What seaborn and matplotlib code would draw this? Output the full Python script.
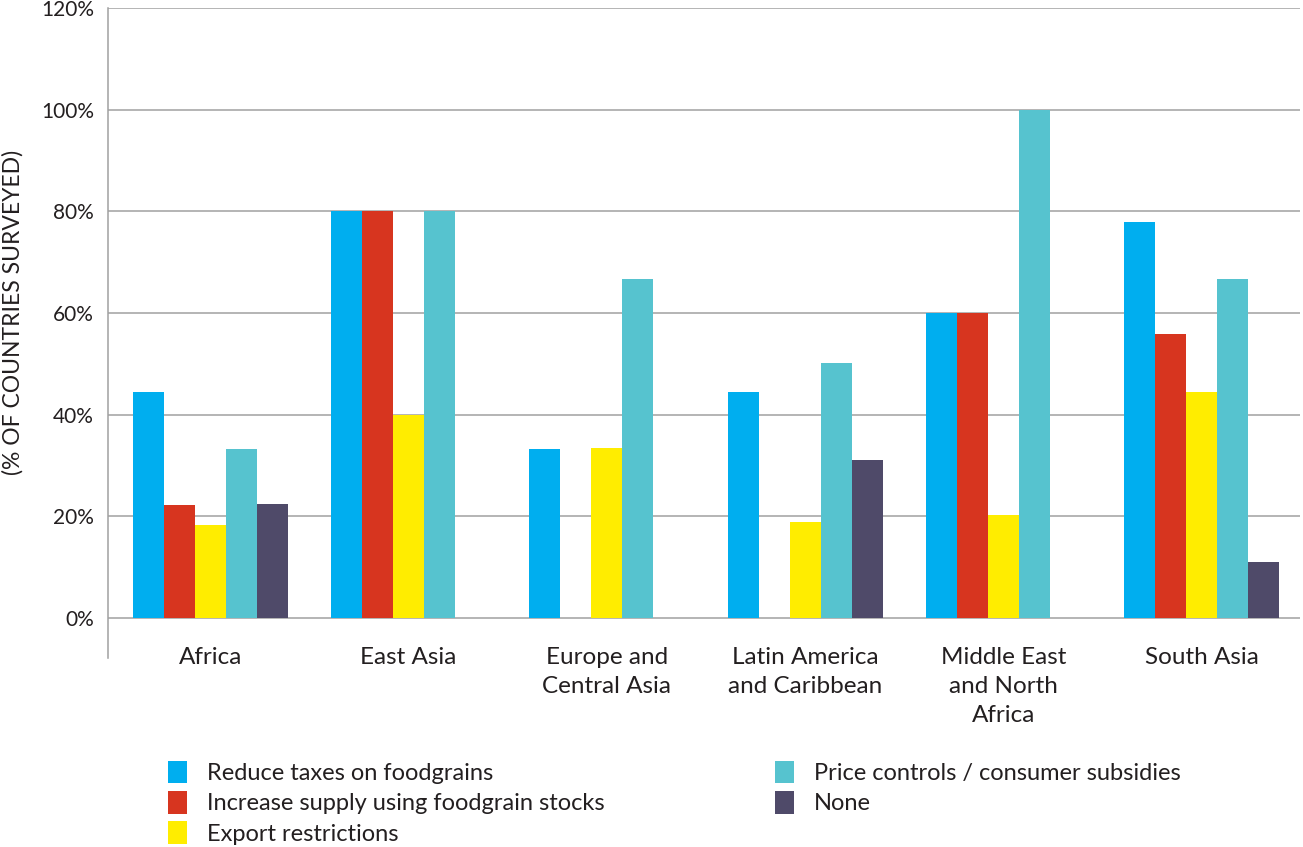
import seaborn as sns
from matplotlib import pyplot as plt
from matplotlib.patches import Patch
import pandas as pd

regions = ['Africa', 'East Asia', 'Europe and\nCentral Asia', 'Latin America\nand Caribbean',
           'Middle East\nand North\nAfrica', 'South Asia']
measures = ['Reduce taxes on foodgrains', 'Increase supply using foodgrain stocks',
            'Export restrictions', 'Price controls / consumer subsidies', 'None']

reduce_taxes = [44.4, 80.0, 33.3, 44.4, 60.0, 77.8]
increase_supply = [22.2, 80.0, 0.0, 0.0, 60.0, 55.9]
export_restr = [18.2, 40.0, 33.5, 18.9, 20.3, 44.5]
price_controls = [33.3, 80.0, 66.7, 50.2, 100.0, 66.7]
none_vals = [22.4, 0.0, 0.0, 31.1, 0.0, 11.0]

yticks = [0, 20, 40, 60, 80, 100, 120]
colors = ['#00AEEF', '#D7351F', '#FFED00', '#56C3CF', '#4F4A69']

series = [reduce_taxes, increase_supply, export_restr, price_controls, none_vals]
df = pd.DataFrame({
    'region': [r for _ in measures for r in regions],
    'measure': [m for m in measures for _ in regions],
    'value': [v for s in series for v in s],
})

sns.set_style('white')
plt.rcParams['font.family'] = ['Lato', 'DejaVu Sans']

fig = plt.figure(figsize=(13.03, 8.47), dpi=100)
ax = fig.add_axes([0.0829, 0.2231, 0.9148, 0.7675])

sns.barplot(data=df, x='region', y='value', hue='measure', palette=colors,
            width=0.78, saturation=1, linewidth=0, ax=ax, legend=False)

ax.set_ylim(-7.9, 120)
ax.set_xlim(-0.515, 5.495)
ax.set_yticks(yticks)
ax.set_yticklabels([f'{t}%' for t in yticks], fontsize=15, color='#231f20')
for t in yticks:
    ax.axhline(t, color='#a0a0a0', lw=1.1, zorder=0)
ax.set_axisbelow(True)
ax.tick_params(axis='y', length=6, color='#a0a0a0', width=1.1, pad=4)
ax.set_xticks([])
ax.set_xlabel('')
ax.set_ylabel('(% OF COUNTRIES SURVEYED)', fontsize=16.5, color='#231f20')
ax.yaxis.set_label_coords(-0.071, 0.532)
for s in ['top', 'right', 'bottom']:
    ax.spines[s].set_visible(False)
ax.spines['left'].set_color('#a0a0a0')
ax.spines['left'].set_linewidth(1.1)

for i, r in enumerate(regions):
    ax.text(i, -5.8, r, ha='center', va='top', fontsize=17.5, color='#231f20', linespacing=1.45)

handles = [Patch(facecolor=c, edgecolor='none') for c in colors]
fig.legend(handles, measures, loc='upper left', bbox_to_anchor=(0.120, 0.116), ncol=2,
           frameon=False, fontsize=17, handlelength=0.8, handleheight=1.1,
           handletextpad=0.85, columnspacing=7.2, labelspacing=0.30, borderpad=0,
           labelcolor='#231f20')

fig.savefig('out.png', dpi=100)
